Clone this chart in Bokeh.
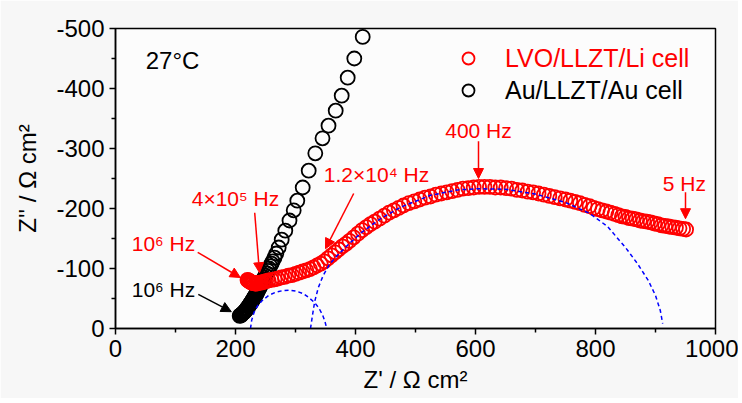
from bokeh.plotting import figure
from bokeh.models import Range1d, FixedTicker, Legend, LegendItem, Arrow, NormalHead, Label
from bokeh.embed import file_html
from bokeh.resources import INLINE

# ---- data ----
red_x = [220, 221, 222, 223, 224, 225, 226, 227, 228, 229, 230, 232, 234, 236, 238, 240, 242, 245, 248, 251,
         255, 260, 265, 270, 276, 282,
         288, 294, 300, 306, 312, 318, 324, 330, 336, 342, 348, 354, 360, 366, 372, 378, 384, 390, 397, 404,
         411, 418, 425, 432, 440, 448, 456, 464, 472, 480, 489, 498, 507, 516, 525, 534, 543, 552, 561, 570,
         579, 588, 597, 606, 615, 624, 633, 642, 651, 660, 669, 678, 687, 696, 705, 714, 723, 732, 741, 750,
         758, 766, 774, 782, 790, 797, 804, 811, 818, 825, 832, 838, 844, 850, 856, 862, 868, 874, 880, 886,
         892, 898, 904, 910, 916, 922, 928, 934, 940, 946, 951]
red_y = [-81, -80, -80, -79, -78, -78, -77, -77, -76, -76, -76, -75, -75, -75, -76, -76, -77, -77, -78, -79,
         -80, -81, -82, -83, -85, -86,
         -88, -89, -91, -93, -95, -97, -99, -102, -105, -108, -112, -117, -122, -127, -132, -137, -141, -146, -152, -158,
         -164, -169, -174, -178, -183, -188, -193, -197, -201, -205, -209, -212, -215, -218, -220, -223, -225, -227, -229, -231,
         -233, -234, -235, -236, -236, -236, -235, -235, -234, -233, -231, -230, -228, -227, -225, -223, -221, -219, -217, -215,
         -213, -211, -209, -206, -204, -201, -199, -197, -195, -193, -191, -189, -187, -186, -184, -183, -182, -180, -179, -178,
         -177, -175, -174, -172, -171, -170, -169, -168, -167, -166, -165]

black_x = [207, 208, 209, 210, 211, 212, 213, 214, 215, 216, 217, 218, 219, 220, 221, 222, 223, 224, 225, 226,
           227, 228, 229, 230, 231, 232, 233, 234, 235, 236, 237, 238, 239, 240, 241, 242, 243, 244, 245, 246,
           247, 248, 250, 252, 254, 256, 258, 260, 262, 265, 268, 272, 277, 283, 290, 297, 303, 312, 322, 333,
           345, 355, 367, 377, 387, 398, 412]
black_y = [-21, -22, -22, -23, -24, -25, -26, -27, -28, -29, -30, -32, -33, -34, -36, -37, -39, -40, -42, -43,
           -45, -46, -48, -50, -51, -53, -55, -56, -58, -60, -62, -64, -66, -68, -70, -72, -74, -76, -78, -80,
           -82, -85, -88, -92, -96, -100, -104, -108, -112, -118, -125, -135, -148, -163, -180, -197, -213, -235, -263, -292,
           -317, -338, -363, -388, -418, -450, -486]

fit1_x = [225, 227, 231, 237, 245, 255, 266, 278, 290, 302, 313, 323, 332, 339, 345, 349, 352]
fit1_y = [0, -14, -27, -38, -47, -55, -60, -63, -64, -62, -58, -51, -43, -34, -23, -12, 0]

fit2_x = [325, 328, 332, 338, 346, 356, 368, 388, 410, 440, 475, 525, 570, 605, 650, 700, 750, 790, 820,
          850, 870, 888, 900, 908, 912]
fit2_y = [0, -20, -45, -68, -88, -106, -120, -140, -160, -182, -202, -222, -231, -233, -232, -224, -210, -192, -170,
          -135, -108, -80, -55, -30, -8]

x_ticks = [0, 200, 400, 600, 800, 1000]
x_tick_labels = ["0", "200", "400", "600", "800", "1000"]
y_ticks = [0, -100, -200, -300, -400, -500]
y_tick_labels = ["0", "-100", "-200", "-300", "-400", "-500"]

FONT = "Liberation Sans"

p = figure(width=738, height=398, x_range=Range1d(0, 1000), y_range=Range1d(0, -500),
           output_backend="svg", toolbar_location=None,
           min_border_left=115, min_border_right=23, min_border_top=28, min_border_bottom=70)
p.border_fill_color = "#f7f7f7"
p.background_fill_color = "#fcfcfc"
p.outline_line_color = "black"
p.outline_line_width = 1.5
p.xgrid.visible = False
p.ygrid.visible = False

p.xaxis.ticker = FixedTicker(ticks=x_ticks, minor_ticks=[t + 100 for t in x_ticks[:-1]])
p.xaxis.major_label_overrides = dict(zip(x_ticks, x_tick_labels))
p.yaxis.ticker = FixedTicker(ticks=y_ticks, minor_ticks=[t - 50 for t in y_ticks[:-1]])
p.yaxis.major_label_overrides = dict(zip(y_ticks, y_tick_labels))

for ax in (p.xaxis, p.yaxis):
    ax.axis_line_width = 1.5
    ax.major_tick_line_width = 1.5
    ax.minor_tick_line_width = 1.5
    ax.major_tick_out = 6
    ax.major_tick_in = 0
    ax.minor_tick_out = 4
    ax.minor_tick_in = 0
    ax.major_label_text_font = FONT
    ax.major_label_text_font_size = "24px"
    ax.major_label_text_color = "black"
    ax.axis_label_text_font = FONT
    ax.axis_label_text_font_size = "24px"
    ax.axis_label_text_font_style = "normal"
    ax.axis_label_text_color = "black"

p.xaxis.axis_label = "Z' / \u03a9 cm\u00b2"
p.yaxis.axis_label = "Z'' / \u03a9 cm\u00b2"
p.xaxis.axis_label_standoff = 6
p.yaxis.axis_label_standoff = 12

rb = p.scatter(black_x, black_y, marker="circle", size=14, fill_color=None,
               line_color="black", line_width=1.8)
rr = p.scatter(red_x, red_y, marker="circle", size=14, fill_color=None,
               line_color="red", line_width=1.8)
p.line(fit1_x, fit1_y, line_color="#0000ff", line_dash="4 3", line_width=1.5)
p.line(fit2_x, fit2_y, line_color="#0000ff", line_dash="4 3", line_width=1.5)

leg_common = dict(border_line_alpha=0, background_fill_alpha=0, padding=0, margin=0, spacing=0,
                  glyph_width=30, glyph_height=30, label_height=30, label_standoff=22,
                  label_text_font=FONT, label_text_font_size="25px")
leg1 = Legend(items=[LegendItem(label="LVO/LLZT/Li cell", renderers=[rr])], location=(338, 255),
              label_text_color="red", **leg_common)
leg2 = Legend(items=[LegendItem(label="Au/LLZT/Au cell", renderers=[rb])], location=(338, 223),
              label_text_color="black", **leg_common)
p.add_layout(leg1)
p.add_layout(leg2)

# annotations: (text, x, y, color, size)
labels = [
    ("27\u00b0C", 95, -447, "black", "24px"),
    ("400 Hz", 605, -330, "red", "21px"),
    ("1.2\u00d710\u2074 Hz", 435, -257, "red", "21px"),
    ("4\u00d710\u2075 Hz", 200, -217, "red", "21px"),
    ("10\u2076 Hz", 80, -142, "red", "21px"),
    ("10\u2076 Hz", 80, -65, "black", "21px"),
    ("5 Hz", 948, -242, "red", "21px"),
]
for t, lx, ly, c, fs in labels:
    p.add_layout(Label(x=lx, y=ly, text=t, text_color=c, text_font=FONT, text_font_size=fs,
                       text_align="center", text_baseline="middle"))

arrows = [
    (605, -312, 605, -250, "red"),
    (397, -225, 350, -133, "red"),
    (232, -193, 240, -93, "red"),
    (137, -127, 208, -85, "red"),
    (138, -57, 193, -28, "black"),
    (950, -227, 950, -183, "red"),
]
for xs, ys, xe, ye, c in arrows:
    p.add_layout(Arrow(end=NormalHead(size=10, fill_color=c, line_color=c, line_width=1),
                       x_start=xs, y_start=ys, x_end=xe, y_end=ye, line_color=c, line_width=1.5))

open("out.html", "w").write(file_html(p, INLINE))
